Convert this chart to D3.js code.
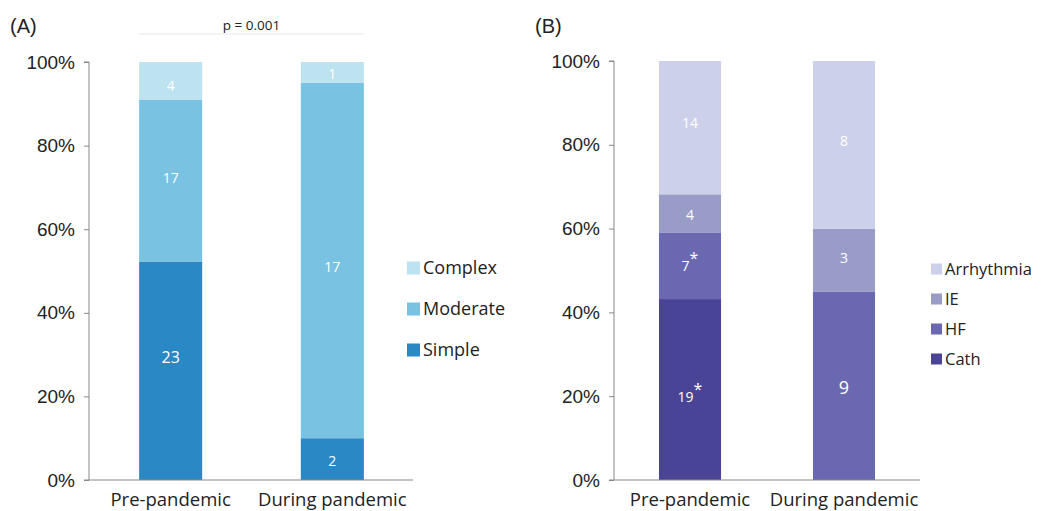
<!DOCTYPE html>
<html><head><meta charset="utf-8">
<script src="https://cdn.jsdelivr.net/npm/d3@7"></script>
<style>body{margin:0;background:#fff}svg{display:block}</style>
</head><body>
<svg id="c" width="1042" height="511"></svg>
<script>
const categories = ["Pre-pandemic", "During pandemic"];
const seriesA = ["Simple", "Moderate", "Complex"];
const valuesA = {Simple: [23, 2], Moderate: [17, 17], Complex: [4, 1]};
const seriesB = ["Cath", "HF", "IE", "Arrhythmia"];
const valuesB = {Cath: [19, 0], HF: [7, 9], IE: [4, 3], Arrhythmia: [14, 8]};
const starsB = {Cath: [true, false], HF: [true, false], IE: [false, false], Arrhythmia: [false, false]};
const yTicks = [0, 0.2, 0.4, 0.6, 0.8, 1.0];
const pText = "p = 0.001";

// label styling (vertical nudges in px, font sizes)
const shiftA = {Simple: [-14, 2], Moderate: [-3, 6], Complex: [5, 2]};
const shiftB = {Cath: [7, 0], HF: [0, 2], IE: [2, -2], Arrhythmia: [-5, -3.5]};
const sizeA = {Simple: [16, 14], Moderate: [14, 14], Complex: [14, 14]};
const sizeB = {Cath: [14, 14], HF: [14, 18], IE: [14, 14], Arrhythmia: [14, 14]};

const colorsA = {Simple: "#2a89c4", Moderate: "#79c2e2", Complex: "#bde2f0"};
const colorsB = {Cath: "#4a4496", HF: "#6a68b0", IE: "#9a9cc8", Arrhythmia: "#cdd0ea"};

const svg = d3.select("#c");
const tickFont = "Liberation Sans, Arial, sans-serif";
const textFont = "'Open Sans', sans-serif";

function panel(opts) {
  const g = svg.append("g");
  const y = d3.scaleLinear().domain([0, 1]).range([480, opts.yTop]);
  const x = d3.scaleBand().domain(categories).range([opts.x0, opts.x1]).paddingInner(opts.pin).paddingOuter(opts.pout);
  const rows = categories.map((c, i) => {
    const r = {cat: c};
    opts.series.forEach(s => r[s] = opts.values[s][i]);
    r.total = d3.sum(opts.series, s => r[s]);
    return r;
  });
  const norm = rows.map(r => {
    const o = {cat: r.cat};
    opts.series.forEach(s => o[s] = r[s] / r.total);
    return o;
  });
  const stack = d3.stack().keys(opts.series)(norm);
  stack.forEach(layer => {
    g.selectAll(null).data(layer).join("rect")
      .attr("x", d => x(d.data.cat))
      .attr("width", x.bandwidth())
      .attr("y", d => y(d[1]))
      .attr("height", d => y(d[0]) - y(d[1]))
      .attr("fill", opts.colors[layer.key]);
  });
  stack.forEach(layer => {
    layer.forEach((d, i) => {
      const v = opts.values[layer.key][i];
      if (!v) return;
      const fs = opts.sizes[layer.key][i];
      const t = g.append("text")
        .attr("x", x(d.data.cat) + x.bandwidth() / 2)
        .attr("y", (y(d[0]) + y(d[1])) / 2 + fs * 0.36 + opts.shift[layer.key][i])
        .attr("text-anchor", "middle")
        .attr("fill", "#fff")
        .attr("font-family", textFont)
        .attr("font-size", fs)
        .text(v);
      if (opts.stars && opts.stars[layer.key][i]) {
        t.append("tspan").attr("dy", -7).attr("font-size", 16).text("*");
      }
    });
  });
  // y axis
  const ax = g.append("g").attr("transform", `translate(${opts.axisX},0)`)
    .call(d3.axisLeft(y).tickValues(yTicks).tickFormat(d3.format(".0%")).tickSize(5).tickPadding(9));
  ax.select(".domain").attr("stroke", "#888").attr("d", `M-5,${y(1)}H0V${y(0)}`);
  ax.selectAll(".tick line").attr("stroke", "#888");
  ax.selectAll(".tick text").attr("font-family", tickFont).attr("font-size", 19).attr("fill", "#222");
  // x axis
  const xa = g.append("g").attr("transform", `translate(0,480)`)
    .call(d3.axisBottom(x).tickSize(0).tickPadding(9));
  xa.select(".domain").attr("stroke", "#888").attr("d", `M${opts.axisX - 5},0H${opts.xEnd}`);
  xa.selectAll(".tick text").attr("font-family", textFont).attr("font-size", 18.5).attr("fill", "#222").attr("dy", "0.9em");
  // panel label
  g.append("text").attr("x", opts.labelX).attr("y", 33).attr("font-family", tickFont)
    .attr("font-size", 20).attr("fill", "#222").text(opts.label);
  // legend
  const leg = opts.series.slice().reverse();
  leg.forEach((s, i) => {
    const ly = opts.legY + i * opts.legStep;
    g.append("rect").attr("x", opts.legX).attr("y", ly - opts.sq / 2).attr("width", opts.sq).attr("height", opts.sq).attr("fill", opts.colors[s]);
    g.append("text").attr("x", opts.legX + opts.sq + 3).attr("y", ly + opts.legFont * 0.36)
      .attr("font-family", textFont).attr("font-size", opts.legFont).attr("fill", "#222").text(s);
  });
  return {x, y};
}

const A = panel({
  series: seriesA, values: valuesA, colors: colorsA, yTop: 62, shift: shiftA, sizes: sizeA,
  x0: 89, x1: 414, pin: 0.61, pout: 0.31, axisX: 89, xEnd: 413,
  label: "(A)", labelX: 10, legX: 407, legY: 268, legStep: 41, legFont: 18, sq: 13
});
// p-value bracket
svg.append("line").attr("x1", A.x(categories[0])).attr("x2", A.x(categories[1]) + A.x.bandwidth())
  .attr("y1", 34).attr("y2", 34).attr("stroke", "#f0f0f0").attr("stroke-width", 1.5);
svg.append("text").attr("x", (A.x(categories[0]) + A.x(categories[1]) + A.x.bandwidth()) / 2).attr("y", 30)
  .attr("text-anchor", "middle").attr("font-family", textFont).attr("font-size", 13.5).attr("fill", "#222").text(pText);

panel({
  series: seriesB, values: valuesB, colors: colorsB, stars: starsB, yTop: 61, shift: shiftB, sizes: sizeB,
  x0: 614, x1: 920, pin: 0.597, pout: 0.292, axisX: 614, xEnd: 920,
  label: "(B)", labelX: 535, legX: 931, legY: 269, legStep: 30, legFont: 16.5, sq: 11
});
</script>
</body></html>
